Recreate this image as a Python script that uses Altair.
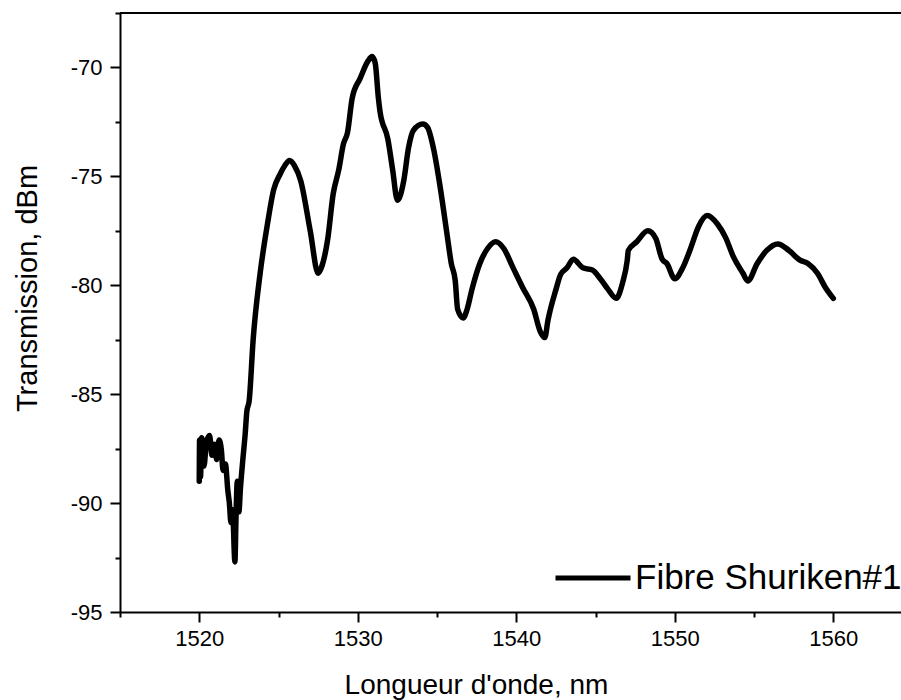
import altair as alt
import pandas as pd

# Transmission spectrum of the fibre (wavelength in nm, power in dBm)
wavelength_nm = [
    1520.0, 1520.02, 1520.08, 1520.15, 1520.3, 1520.45, 1520.65, 1520.8, 1520.95, 1521.1,
    1521.25, 1521.4, 1521.5, 1521.65, 1521.8, 1521.9, 1522.0, 1522.1, 1522.25, 1522.32,
    1522.4, 1522.5, 1522.6, 1522.75, 1522.9, 1523.0, 1523.15, 1523.4, 1523.85, 1524.3,
    1524.7, 1525.1, 1525.4, 1525.7, 1526.0, 1526.4, 1527.0, 1527.5, 1527.7, 1528.1,
    1528.45, 1528.8, 1529.1, 1529.35, 1529.65, 1530.15, 1530.65, 1530.9, 1531.1, 1531.3,
    1531.4, 1531.9, 1532.2, 1532.5, 1532.9, 1533.2, 1533.5, 1534.1, 1534.4, 1534.8,
    1535.2, 1535.6, 1535.9, 1536.15, 1536.3, 1536.65, 1536.9, 1537.2, 1537.7, 1538.2,
    1538.7, 1539.2, 1539.8, 1540.4, 1541.1, 1541.5, 1541.8, 1542.0, 1542.5, 1542.8,
    1543.2, 1543.6, 1544.2, 1544.8, 1545.3, 1545.8, 1546.3, 1546.7, 1547.0, 1547.07,
    1547.6, 1548.3, 1548.8, 1549.2, 1549.5, 1550.0, 1550.5, 1551.0, 1551.5, 1552.05,
    1552.7, 1553.2, 1553.7, 1554.3, 1554.6, 1555.2, 1555.8, 1556.5, 1557.2, 1557.9,
    1558.4, 1559.0, 1559.5, 1560.0,
]
transmission_dbm = [
    -89.0, -87.1, -88.8, -87.0, -88.3, -87.2, -86.9, -87.8, -87.3, -88.0,
    -87.1, -87.6, -88.5, -88.2, -89.4, -90.0, -90.9, -90.3, -92.7, -90.6,
    -89.0, -90.4, -89.3, -88.0, -86.8, -85.8, -85.3, -82.5, -79.4, -77.2,
    -75.6, -74.9, -74.5, -74.27, -74.5, -75.2, -77.5, -79.45, -79.2, -77.9,
    -75.8, -74.7, -73.5, -73.0, -71.4, -70.5, -69.7, -69.5, -69.8, -71.4,
    -72.0, -73.3, -74.7, -76.1, -75.2, -73.7, -72.9, -72.6, -72.75, -73.8,
    -75.5, -77.5, -79.0, -79.8, -81.1, -81.5, -81.1, -80.2, -79.0, -78.3,
    -78.0, -78.3, -79.2, -80.1, -81.1, -82.1, -82.4, -81.6, -80.2, -79.5,
    -79.2, -78.8, -79.2, -79.3, -79.7, -80.2, -80.6, -79.9, -78.85, -78.4,
    -78.0, -77.5, -77.85, -78.8, -79.0, -79.7, -79.2, -78.3, -77.3, -76.8,
    -77.2, -77.8, -78.7, -79.45, -79.8, -79.0, -78.4, -78.1, -78.4, -78.85,
    -79.0, -79.45, -80.1, -80.6,
]
series_name = "Fibre Shuriken#1"

x_tick_values = [1515, 1520, 1525, 1530, 1535, 1540, 1545, 1550, 1555, 1560]
y_tick_values = [-95, -92.5, -90, -87.5, -85, -82.5, -80, -77.5, -75, -72.5, -70, -67.5]

df = pd.DataFrame({
    "wavelength": wavelength_nm,
    "transmission": transmission_dbm,
    "series": [series_name] * len(wavelength_nm),
})

FONT = "Liberation Sans"
W, H = 781, 599

x_axis = alt.Axis(
    title="Longueur d'onde, nm",
    values=x_tick_values,
    labelExpr="datum.value % 10 === 0 ? '' + datum.value : ''",
    tickSize={"condition": {"test": "datum.value % 10 === 0", "value": 10}, "value": 5},
    tickWidth=2,
    tickColor="black",
    domainColor="black",
    domainWidth=2,
    grid=False,
    labelFont=FONT,
    labelFontSize=22,
    labelColor="black",
    labelPadding=6,
    titleFont=FONT,
    titleFontSize=28,
    titleFontWeight="normal",
    titleColor="black",
    titleX=356,
    titleY=81,
    titleBaseline="alphabetic",
    titleAlign="center",
)

y_axis = alt.Axis(
    title="Transmission, dBm",
    values=y_tick_values,
    labelExpr="datum.value % 5 === 0 ? '-' + abs(datum.value) : ''",
    tickSize={"condition": {"test": "datum.value % 5 === 0", "value": 10}, "value": 5},
    tickWidth=2,
    tickColor="black",
    domainColor="black",
    domainWidth=2,
    grid=False,
    labelFont=FONT,
    labelFontSize=22,
    labelColor="black",
    labelPadding=8,
    titleFont=FONT,
    titleFontSize=29,
    titleFontWeight="normal",
    titleColor="black",
    titleAngle=270,
    titleX=-84,
    titleY=275,
    titleBaseline="alphabetic",
    titleAlign="center",
)

line = alt.Chart(df).mark_line(
    strokeWidth=5.5, strokeJoin="round", strokeCap="round", interpolate="monotone"
).encode(
    x=alt.X("wavelength:Q", scale=alt.Scale(domain=[1515, 1564.27], nice=False, zero=False), axis=x_axis),
    y=alt.Y("transmission:Q", scale=alt.Scale(domain=[-95, -67.5], nice=False, zero=False), axis=y_axis),
    color=alt.Color(
        "series:N",
        scale=alt.Scale(range=["black"]),
        legend=alt.Legend(
            title=None,
            orient="none",
            legendX=433,
            legendY=525,
            symbolType="stroke",
            symbolSize=5625,
            symbolStrokeWidth=5,
            labelFont=FONT,
            labelFontSize=35,
            labelColor="black",
            labelOffset=2,
            labelLimit=0,
            padding=0,
        ),
    ),
)

# top frame line
top_border = alt.Chart(df).mark_rule(color="black", strokeWidth=2).encode(
    x=alt.value(0), x2=alt.value(W), y=alt.value(0)
)

chart = (
    alt.layer(line, top_border)
    .properties(
        width=W,
        height=H,
        autosize="none",
        padding={"left": 120, "top": 13, "right": 0, "bottom": 88},
        background="white",
    )
    .configure_view(strokeOpacity=0)
)

chart.save("out.html", embed_options={"renderer": "svg", "actions": False})
